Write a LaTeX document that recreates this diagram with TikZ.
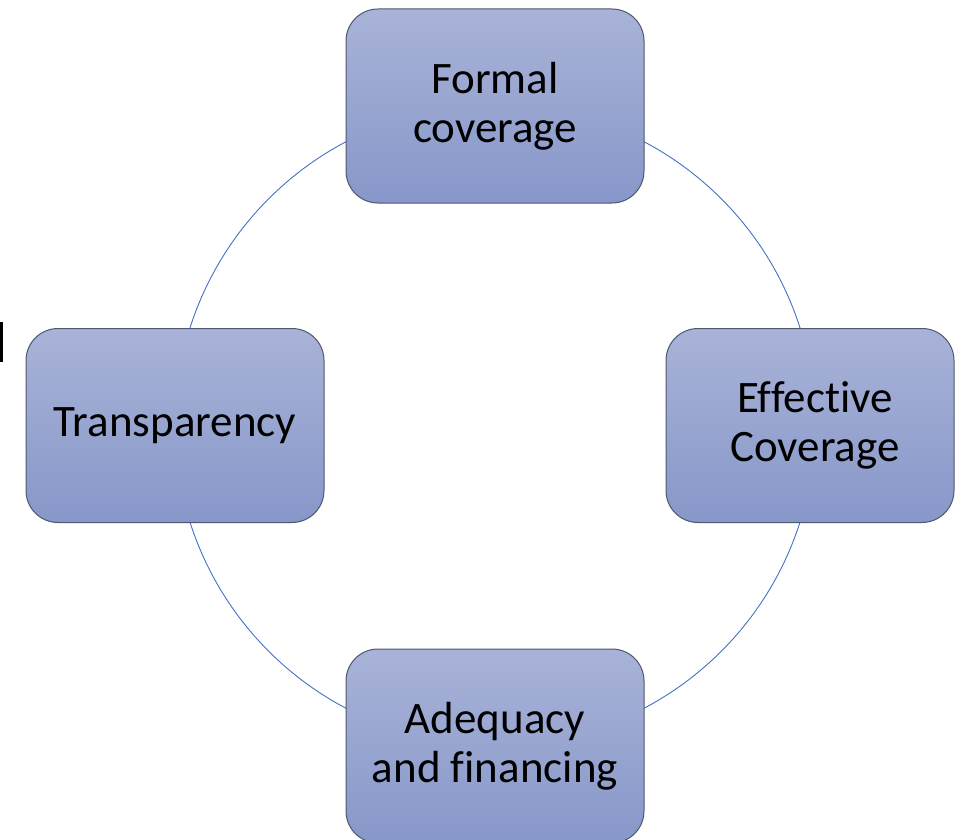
\documentclass[tikz,border=0pt]{standalone}
\usepackage{fontspec}
\setmainfont{Carlito}[Ligatures=NoCommon]
\definecolor{boxtop}{HTML}{A9B3D8}
\definecolor{boxbot}{HTML}{8797C9}
\definecolor{boxline}{HTML}{4E586E}
\definecolor{ringblue}{HTML}{4472C4}
\begin{document}
\begin{tikzpicture}[x=1pt,y=-1pt,
  cyclebox/.style={draw=boxline, line width=1pt, rounded corners=32pt,
    top color=boxtop, bottom color=boxbot, minimum width=298pt, minimum height=194pt,
    align=center, font=\fontsize{45}{49}\selectfont, inner sep=0pt},
  ring/.style={draw=ringblue, line width=0.9pt}]
\useasboundingbox (0,0) rectangle (956,840);
\fill[white] (0,0) rectangle (956,840);
\node[ring, circle, minimum size=640pt, inner sep=0pt] (ringc) at (495,425) {};
\node[cyclebox] (formal) at (495,106) {Formal\\coverage};
\node[cyclebox, minimum width=288pt, text width=288pt] (effective) at (810,425.5) {\hspace*{10pt}Effective\\\hspace*{10pt}Coverage};
\node[cyclebox] (adequacy) at (495,746) {Adequacy\\and financing};
\node[cyclebox] (transp) at (175,425.5) {\raisebox{-2pt}{Transparency}};
\fill[black] (0,322) rectangle (3,362);
\end{tikzpicture}
\end{document}
